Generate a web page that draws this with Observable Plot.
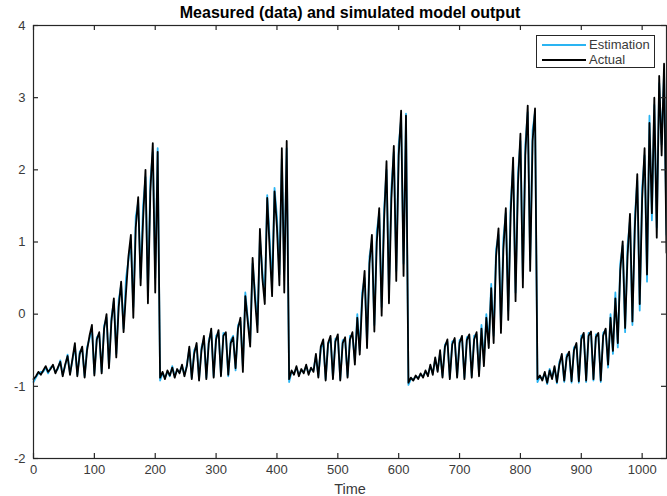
<!DOCTYPE html>
<html>
<head>
<meta charset="utf-8">
<script src="https://cdn.jsdelivr.net/npm/d3@7"></script>
<script src="https://cdn.jsdelivr.net/npm/@observablehq/plot@0.6"></script>
<style>
  body { margin: 0; background: #fff; font-family: "Liberation Sans", Arial, sans-serif; }
  #chart { position: relative; width: 667px; height: 496px; }
  .legend { position: absolute; left: 536px; top: 35px; width: 117px; height: 31px;
            border: 1px solid #262626; background: #fff; font-size: 13px; color: #3a3a3a; }
  .legend .row { position: absolute; left: 0; height: 15px; width: 100%; }
  .legend .swatch { position: absolute; left: 5px; top: 7px; width: 44px; height: 0; border-top: 2px solid; }
  .legend .label { position: absolute; left: 52px; top: 0; line-height: 15px; }
</style>
</head>
<body>
<div id="chart"></div>
<script>
// Sampling interval of the recorded series (time units per sample)
const sampleStep = 4;

// Actual (measured) output, one array per ramp cycle
const actualC1 = [
  -0.90,-0.86,-0.80,-0.84,-0.78,-0.72,-0.80,-0.76,-0.70,-0.82,
  -0.74,-0.66,-0.86,-0.70,-0.58,-0.84,-0.62,-0.40,-0.86,-0.55,
  -0.45,-0.88,-0.50,-0.30,-0.15,-0.85,-0.35,-0.25,-0.82,-0.20,
   0.00,-0.75,-0.10, 0.22,-0.60, 0.10, 0.45,-0.25, 0.30, 0.80,
   1.10,-0.05, 1.20, 1.62, 0.40, 1.30, 2.00, 0.15, 1.70, 2.37,
   0.30, 2.25
];
const actualC2 = [
  -0.88,-0.80,-0.90,-0.78,-0.85,-0.74,-0.88,-0.76,-0.82,-0.70,
  -0.86,-0.72,-0.45,-0.90,-0.55,-0.40,-0.92,-0.50,-0.30,-0.90,
  -0.40,-0.20,-0.88,-0.35,-0.22,-0.86,-0.30,-0.25,-0.84,-0.40,
  -0.32,-0.75,-0.20,-0.05,-0.80, 0.25,-0.10,-0.45, 0.78, 0.20,
  -0.25, 1.18, 0.50, 0.14, 1.61, 0.90, 0.25, 1.70, 1.20, 0.40,
   2.30, 0.30, 2.40
];
const actualC3 = [
  -0.90,-0.78,-0.84,-0.72,-0.86,-0.76,-0.82,-0.70,-0.84,-0.74,
  -0.80,-0.55,-0.88,-0.45,-0.35,-0.92,-0.40,-0.30,-0.90,-0.38,
  -0.28,-0.92,-0.40,-0.32,-0.88,-0.35,-0.25,-0.70,-0.05,-0.56,
   0.20, 0.60,-0.47, 0.70, 1.10,-0.24, 1.00, 1.47,-0.02, 1.30,
   2.12, 0.15, 1.60, 2.33, 0.46, 2.20, 2.82, 0.53, 2.75
];
const actualC4 = [
  -0.95,-0.88,-0.92,-0.85,-0.90,-0.82,-0.88,-0.78,-0.86,-0.70,
  -0.84,-0.60,-0.80,-0.50,-0.88,-0.45,-0.35,-0.90,-0.42,-0.33,
  -0.88,-0.40,-0.30,-0.90,-0.36,-0.28,-0.88,-0.35,-0.25,-0.86,
  -0.20,-0.72,-0.05,-0.47, 0.36,-0.40, 0.80, 1.19,-0.26, 0.90,
   1.47,-0.08, 1.40, 2.17, 0.18, 1.80, 2.50, 0.37, 2.20, 2.89,
   0.60, 2.40, 2.85
];
const actualC5 = [
  -0.90,-0.85,-0.92,-0.80,-0.95,-0.78,-0.90,-0.72,-0.94,-0.70,
  -0.55,-0.92,-0.60,-0.52,-0.93,-0.50,-0.40,-0.93,-0.35,-0.26,
  -0.92,-0.30,-0.24,-0.90,-0.32,-0.26,-0.92,-0.30,-0.20,-0.70,
  -0.05,-0.51, 0.22,-0.40, 0.60, 1.01,-0.19, 0.80, 1.39,-0.10,
   1.20, 1.94, 0.14, 1.60, 2.30, 0.55, 2.65, 1.40, 3.00, 1.06,
   3.30, 2.20, 3.47, 0.85
];

// Simulated model output (estimation), same sampling
const estC1 = [
  -0.94,-0.88,-0.82,-0.80,-0.80,-0.74,-0.82,-0.74,-0.72,-0.80,
  -0.76,-0.64,-0.84,-0.72,-0.56,-0.82,-0.64,-0.44,-0.84,-0.52,
  -0.48,-0.86,-0.46,-0.34,-0.20,-0.82,-0.32,-0.28,-0.80,-0.16,
  -0.05,-0.72,-0.05, 0.18,-0.55, 0.20, 0.40,-0.20, 0.50, 0.75,
   1.00, 0.10, 1.35, 1.55, 0.50, 1.50, 1.90, 0.30, 1.85, 2.25,
   0.50, 2.30
];
const estC2 = [
  -0.92,-0.82,-0.88,-0.80,-0.86,-0.72,-0.86,-0.78,-0.80,-0.72,
  -0.84,-0.70,-0.48,-0.88,-0.50,-0.44,-0.90,-0.46,-0.34,-0.88,
  -0.36,-0.24,-0.86,-0.30,-0.26,-0.84,-0.26,-0.28,-0.86,-0.36,
  -0.30,-0.78,-0.15,-0.10,-0.72, 0.30,-0.05,-0.40, 0.70, 0.30,
  -0.15, 1.05, 0.60, 0.25, 1.65, 1.05, 0.40, 1.75, 1.35, 0.55,
   2.15, 0.60, 2.30
];
const estC3 = [
  -0.94,-0.80,-0.82,-0.74,-0.84,-0.78,-0.80,-0.72,-0.82,-0.76,
  -0.78,-0.58,-0.86,-0.48,-0.38,-0.90,-0.42,-0.34,-0.88,-0.34,
  -0.32,-0.90,-0.36,-0.36,-0.86,-0.30,-0.30,-0.64, 0.00,-0.50,
   0.30, 0.50,-0.40, 0.80, 1.00,-0.15, 1.15, 1.40, 0.10, 1.45,
   2.00, 0.30, 1.75, 2.25, 0.60, 2.35, 2.70, 0.70, 2.78
];
const estC4 = [
  -0.98,-0.90,-0.90,-0.87,-0.88,-0.84,-0.86,-0.80,-0.84,-0.72,
  -0.82,-0.62,-0.78,-0.54,-0.86,-0.42,-0.38,-0.88,-0.38,-0.36,
  -0.86,-0.36,-0.33,-0.88,-0.32,-0.30,-0.86,-0.30,-0.28,-0.82,
  -0.15,-0.65, 0.00,-0.40, 0.42,-0.30, 0.90, 1.10,-0.15, 1.05,
   1.40, 0.05, 1.55, 2.05, 0.30, 1.95, 2.40, 0.50, 2.35, 2.80,
   0.75, 2.55, 2.80
];
const estC5 = [
  -0.94,-0.87,-0.90,-0.82,-0.97,-0.76,-0.88,-0.74,-0.96,-0.66,
  -0.58,-0.94,-0.56,-0.55,-0.95,-0.46,-0.43,-0.95,-0.30,-0.28,
  -0.94,-0.26,-0.27,-0.92,-0.28,-0.28,-0.94,-0.26,-0.22,-0.74,
   0.00,-0.55, 0.30,-0.46, 0.70, 0.95,-0.25, 0.95, 1.30,-0.15,
   1.35, 1.85, 0.05, 1.75, 2.20, 0.45, 2.75, 1.30, 2.90, 1.20,
   3.20, 2.35, 3.35, 1.10
];

// Axis ticks and text
const xTicks = [0, 100, 200, 300, 400, 500, 600, 700, 800, 900, 1000];
const yTicks = [-2, -1, 0, 1, 2, 3, 4];
const titleText = "Measured (data) and simulated model output";
const xLabel = "Time";
const seriesNames = ["Estimation", "Actual"];
const seriesColors = ["#2ab4f2", "#000000"];

const actual = [...actualC1, ...actualC2, ...actualC3, ...actualC4, ...actualC5];
const estimation = [...estC1, ...estC2, ...estC3, ...estC4, ...estC5];
const toRows = (vals) => vals.map((value, i) => ({time: i * sampleStep, value}));
const plainNumber = (d) => String(d); // hyphen-minus, no grouping

const W = 667, H = 496;
const M = {top: 25, right: 1, bottom: 38, left: 33};
const plotW = W - M.left - M.right;
const plotH = H - M.top - M.bottom;
const ink = "#262626";
const labelInk = "#3a3a3a";
const tickLen = 5;

const chart = Plot.plot({
  width: W, height: H,
  marginTop: M.top, marginRight: M.right, marginBottom: M.bottom, marginLeft: M.left,
  style: {fontFamily: "'Liberation Sans', Arial, sans-serif", fontSize: "13px", color: ink, background: "#fff"},
  x: {domain: [0, 1040], label: null},
  y: {domain: [-2, 4], label: null},
  marks: [
    Plot.line(toRows(estimation), {x: "time", y: "value", stroke: seriesColors[0], strokeWidth: 1.8}),
    Plot.line(toRows(actual), {x: "time", y: "value", stroke: seriesColors[1], strokeWidth: 1.8}),
    Plot.frame({stroke: ink, strokeWidth: 1.2}),
    // inward tick marks on all four sides of the box
    Plot.tickX(xTicks, {x: d => d, insetTop: plotH - tickLen, stroke: ink, strokeWidth: 1.2}),
    Plot.tickX(xTicks, {x: d => d, insetBottom: plotH - tickLen, stroke: ink, strokeWidth: 1.2}),
    Plot.tickY(yTicks, {y: d => d, insetRight: plotW - tickLen, stroke: ink, strokeWidth: 1.2}),
    Plot.tickY(yTicks, {y: d => d, insetLeft: plotW - tickLen, stroke: ink, strokeWidth: 1.2}),
    Plot.axisX(xTicks, {anchor: "bottom", tickSize: 0, tickPadding: 6, label: null, tickFormat: plainNumber, fill: labelInk}),
    Plot.axisY(yTicks, {anchor: "left", tickSize: 0, tickPadding: 8, label: null, tickFormat: plainNumber, fill: labelInk}),
    Plot.text([xLabel], {frameAnchor: "bottom", lineAnchor: "middle", dy: 31, fontSize: 14.5, fill: labelInk}),
    Plot.text([titleText], {frameAnchor: "top", lineAnchor: "middle", dy: -13, fontSize: 16, fontWeight: "bold", fill: "#000"})
  ]
});
document.getElementById("chart").appendChild(chart);

// Legend box in the upper-right corner of the axes
const legend = document.createElement("div");
legend.className = "legend";
seriesNames.forEach((name, i) => {
  const row = document.createElement("div");
  row.className = "row";
  row.style.top = (1 + i * 15) + "px";
  const sw = document.createElement("div");
  sw.className = "swatch";
  sw.style.borderTopColor = seriesColors[i];
  const lab = document.createElement("div");
  lab.className = "label";
  lab.textContent = name;
  row.appendChild(sw);
  row.appendChild(lab);
  legend.appendChild(row);
});
document.getElementById("chart").appendChild(legend);
</script>
</body>
</html>
